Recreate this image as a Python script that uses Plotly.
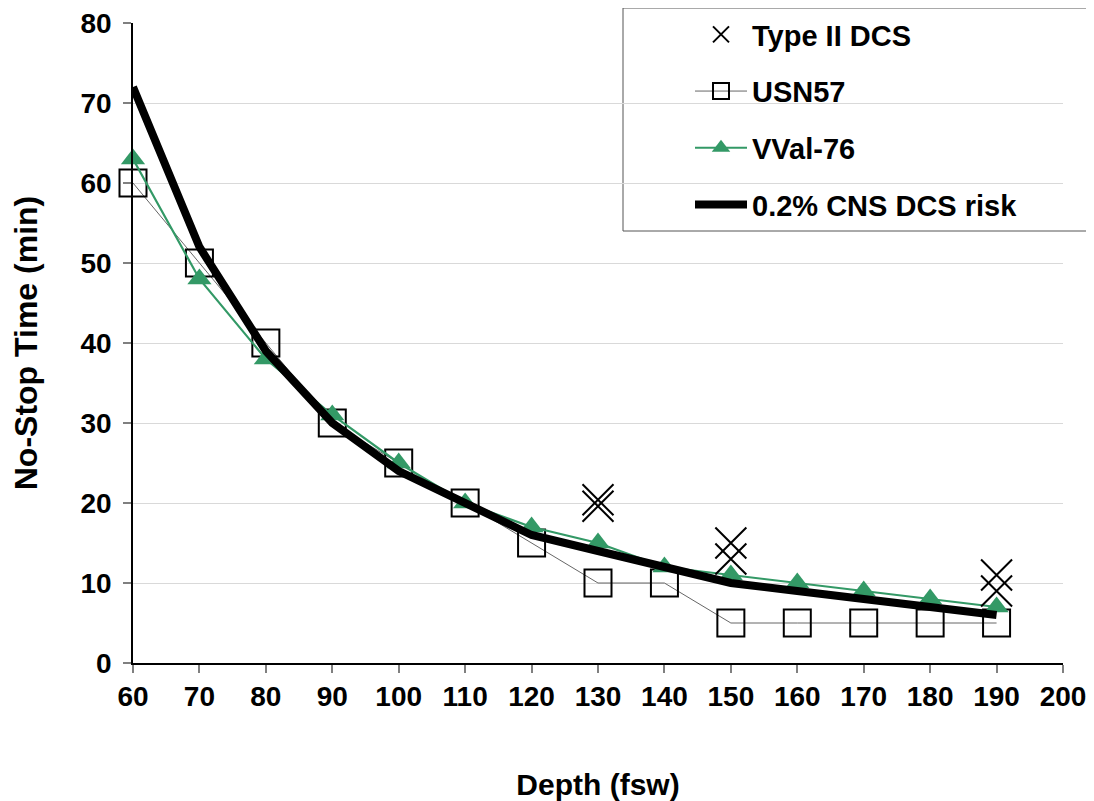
import plotly.graph_objects as go

depth = [60, 70, 80, 90, 100, 110, 120, 130, 140, 150, 160, 170, 180, 190]
usn57 = [60, 50, 40, 30, 25, 20, 15, 10, 10, 5, 5, 5, 5, 5]
vval76 = [63, 48, 38, 31, 25, 20, 17, 15, 12, 11, 10, 9, 8, 7]
cns_risk = [72, 52, 39, 30, 24, 20, 16, 14, 12, 10, 9, 8, 7, 6]

dcs_depth = [130, 130, 150, 150, 190, 190]
dcs_time = [19.6, 20.4, 13, 15, 9, 11]

x_ticks = list(range(60, 201, 10))
y_ticks = list(range(0, 81, 10))

# page body has an 8px margin; compensate so the plot lands where the reference has it
OFF = 8
W, H = 1094 - OFF, 801 - OFF
L, R, T, B = 133 - OFF, 31, 23 - OFF, 138
PW, PH = W - L - R, H - T - B

def px_x(p):
    return (p - OFF - L) / PW

def px_y(p):
    return (H - B - (p - OFF)) / PH

FONT = "Liberation Sans, Arial, sans-serif"

fig = go.Figure()

fig.add_trace(go.Scatter(
    x=depth, y=usn57, name="USN57", mode="lines+markers",
    line=dict(color="#666666", width=1),
    marker=dict(symbol="square-open", size=27, color="black", line=dict(width=2, color="black")),
    cliponaxis=False, legendrank=2, legendgroup="b",
))
fig.add_trace(go.Scatter(
    x=depth, y=vval76, name="VVal-76", mode="lines+markers",
    line=dict(color="#339966", width=2.2),
    marker=dict(symbol="triangle-up", size=21, color="#339966"),
    cliponaxis=False, legendrank=3, legendgroup="c",
))
fig.add_trace(go.Scatter(
    x=depth, y=cns_risk, name="0.2% CNS DCS risk", mode="lines",
    line=dict(color="black", width=8),
    cliponaxis=False, legendrank=4, legendgroup="d",
))
fig.add_trace(go.Scatter(
    x=dcs_depth, y=dcs_time, name="Type II DCS", mode="markers",
    marker=dict(symbol="x-thin", size=31, color="black", line=dict(width=2, color="black")),
    cliponaxis=False, legendrank=1, legendgroup="a",
))

fig.add_shape(
    type="rect", xref="paper", yref="paper",
    x0=px_x(623), x1=px_x(1088), y0=px_y(231), y1=px_y(8),
    line=dict(color="#555555", width=1), fillcolor="white", layer="below",
)

fig.update_layout(
    width=W, height=H,
    margin=dict(l=L, r=R, t=T, b=B, pad=0, autoexpand=False),
    paper_bgcolor="white", plot_bgcolor="white",
    font=dict(family=FONT, color="black", size=28, weight="bold"),
    showlegend=True,
    legend=dict(
        x=px_x(690), y=px_y(9), xanchor="left", yanchor="top",
        bgcolor="rgba(0,0,0,0)", borderwidth=0,
        font=dict(family=FONT, size=29, weight="bold", color="black"),
        traceorder="grouped", tracegroupgap=16, itemwidth=52,
    ),
    xaxis=dict(
        range=[60, 200], tickvals=x_ticks, ticktext=[str(v) for v in x_ticks],
        showgrid=False, zeroline=False,
        showline=True, linecolor="black", linewidth=1.5,
        ticks="outside", ticklen=8, tickcolor="#808080", tickwidth=1.5,
        tickfont=dict(family=FONT, size=28, weight="bold"),
        ticklabeloverflow="allow",
        title=dict(text="Depth (fsw)", font=dict(family=FONT, size=30, weight="bold"), standoff=72),
    ),
    yaxis=dict(
        range=[0, 80], tickvals=y_ticks, ticktext=[str(v) for v in y_ticks],
        showgrid=True, gridcolor="#d9d9d9", gridwidth=1.2, zeroline=False,
        showline=True, linecolor="black", linewidth=1.5,
        ticks="outside", ticklen=8, tickcolor="#808080", tickwidth=1.5,
        tickfont=dict(family=FONT, size=28, weight="bold"),
        ticklabelstandoff=6, ticklabeloverflow="allow",
        title=dict(text="No-Stop Time (min)", font=dict(family=FONT, size=32, weight="bold"), standoff=38),
    ),
)

fig.write_html("out.html")
